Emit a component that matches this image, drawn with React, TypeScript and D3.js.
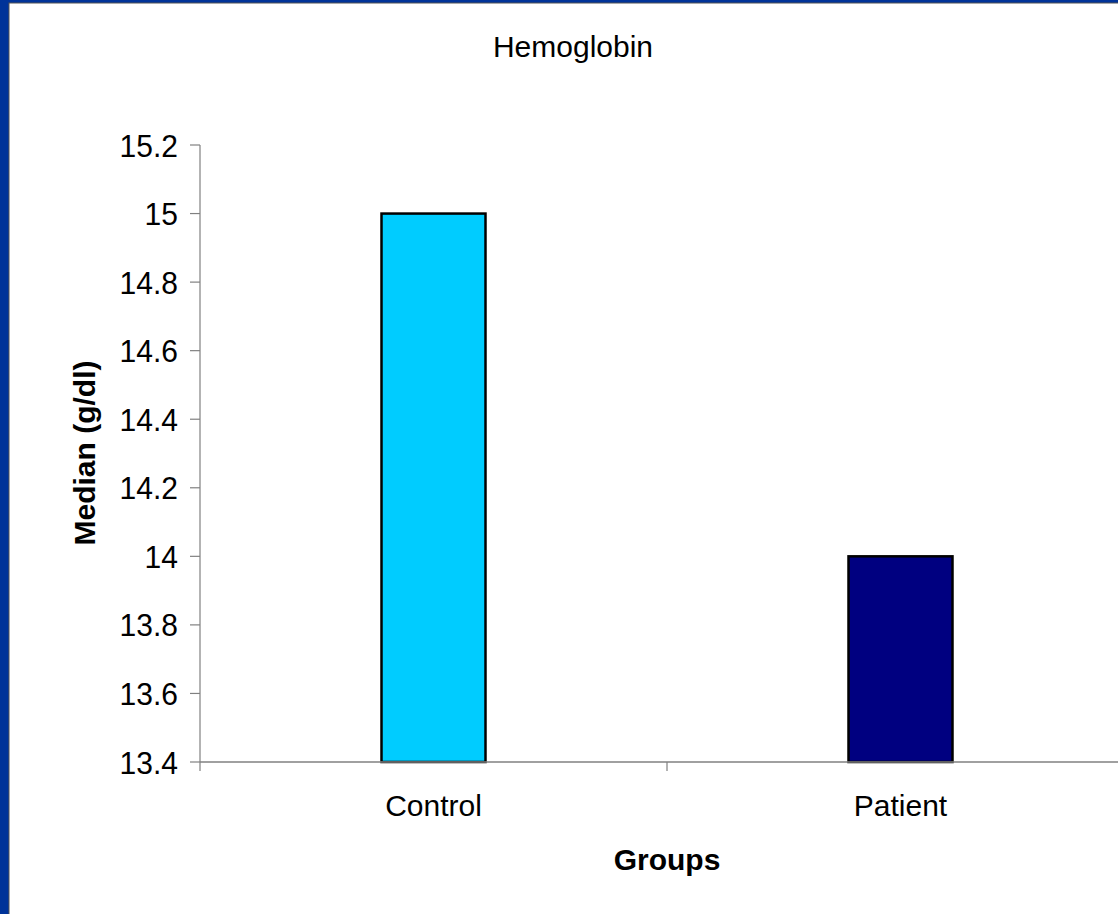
import React from "react";
import * as d3 from "d3";

const categories = ["Control", "Patient"];
const values = [15.0, 14.0];
const barColors = ["#00CCFF", "#000080"];
const yTicks = [13.4, 13.6, 13.8, 14.0, 14.2, 14.4, 14.6, 14.8, 15.0, 15.2];
const title = "Hemoglobin";
const xTitle = "Groups";
const yTitle = "Median (g/dl)";

const W = 1118;
const H = 914;

export default function App() {
  const left = 200;
  const bandW = 467;
  const x = d3
    .scaleBand<string>()
    .domain(categories)
    .range([left, left + bandW * categories.length])
    .paddingInner(0)
    .paddingOuter(0);
  const y = d3.scaleLinear().domain([13.4, 15.2]).range([762, 145]);
  const barW = 104;
  const axisColor = "#808080";
  const font = "Arial, 'Liberation Sans', sans-serif";
  const fs = 30;
  const bottom = y(13.4);

  const xTickPositions = [left, ...categories.map((c) => (x(c) as number) + x.bandwidth())];

  return (
    <svg
      width={W}
      height={H}
      style={{ position: "absolute", left: 0, top: 0, display: "block" }}
      fontFamily={font}
    >
      <rect x={0} y={0} width={W} height={H} fill="#003399" />
      <rect x={9} y={3} width={W} height={H} fill="#ffffff" stroke="#555555" strokeWidth={1} />

      <text x={573} y={57} fontSize={fs} textAnchor="middle" fill="#000">
        {title}
      </text>

      {/* bars */}
      {categories.map((c, i) => {
        const cx = (x(c) as number) + x.bandwidth() / 2;
        return (
          <rect
            key={c}
            x={cx - barW / 2}
            y={y(values[i])}
            width={barW}
            height={bottom - y(values[i])}
            fill={barColors[i]}
            stroke="#000"
            strokeWidth={2.5}
          />
        );
      })}

      {/* y axis */}
      <line x1={left} x2={left} y1={y(15.2)} y2={bottom} stroke={axisColor} strokeWidth={1.2} />
      {yTicks.map((t) => (
        <g key={t}>
          <line x1={left - 10} x2={left} y1={y(t)} y2={y(t)} stroke={axisColor} strokeWidth={1.2} />
          <text
            x={left - 22}
            y={y(t) + 11}
            fontSize={fs}
            textAnchor="end"
            fill="#000"
            style={{ transform: "scale(1,1.06)", transformBox: "fill-box", transformOrigin: "center" }}
          >
            {d3.format("~g")(t)}
          </text>
        </g>
      ))}

      {/* x axis */}
      <line x1={left} x2={left + bandW * categories.length} y1={bottom} y2={bottom} stroke={axisColor} strokeWidth={1.5} />
      {xTickPositions.map((p, i) => (
        <line key={i} x1={p} x2={p} y1={bottom} y2={bottom + 9} stroke={axisColor} strokeWidth={1.2} />
      ))}
      {categories.map((c) => (
        <text
          key={c}
          x={(x(c) as number) + x.bandwidth() / 2}
          y={816}
          fontSize={fs}
          textAnchor="middle"
          fill="#000"
        >
          {c}
        </text>
      ))}

      <text x={667} y={870} fontSize={fs} fontWeight="bold" textAnchor="middle" fill="#000">
        {xTitle}
      </text>
      <text
        transform={`translate(95, 453) rotate(-90)`}
        fontSize={fs}
        fontWeight="bold"
        textAnchor="middle"
        fill="#000"
      >
        {yTitle}
      </text>
    </svg>
  );
}
